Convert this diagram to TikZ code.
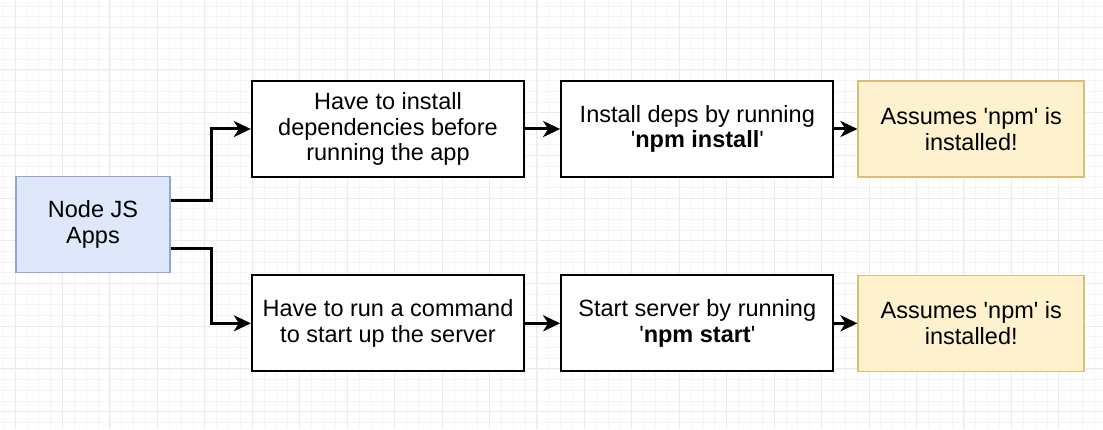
\documentclass[tikz,border=0pt]{standalone}
\usepackage{fontspec}
\setmainfont{Liberation Sans}
\usepackage{tikz}
\usetikzlibrary{arrows.meta,positioning}
\definecolor{njsfill}{HTML}{DFE7FA}
\definecolor{njsline}{HTML}{8FA6D2}
\definecolor{notefill}{HTML}{FDF1CE}
\definecolor{noteline}{HTML}{D8BF73}
\newcommand{\squote}{\textquotesingle}
\tikzset{
	stepbox/.style={draw=black, line width=2.3pt, fill=white, align=center, inner sep=2pt,
		minimum width=272pt, minimum height=96pt, font=\fontsize{23.5}{25.7}\selectfont},
	appbox/.style={stepbox, draw=njsline, fill=njsfill, line width=1.6pt, minimum width=154pt},
	notebox/.style={stepbox, draw=noteline, fill=notefill, line width=1.6pt, minimum width=226pt},
	link/.style={line width=3pt, -{Stealth[length=17pt,width=16pt,inset=5pt]}}
}

\begin{document}
\begin{tikzpicture}[x=1pt, y=1pt, node distance=35pt]
		\useasboundingbox (0,0) rectangle (1103,429);
		\fill[white] (0,0) rectangle (1103,429);
		% grid
		\foreach \i in {-1,...,93}
			\draw[line width=0.6pt, black!4] ({15+11.86*\i},0) -- ++(0,429);
		\foreach \i in {-18,...,22}
			\draw[line width=0.6pt, black!4] (0,{188.3+10.675*\i}) -- ++(1103,0);
		\foreach \i in {0,...,23}
			\draw[line width=0.8pt, black!8] ({15+47.44*\i},0) -- ++(0,429);
		\foreach \i in {-5,...,6}
			\draw[line width=0.8pt, black!8] (0,{188.3+42.7*\i}) -- ++(1103,0);

		\node[appbox] (njs) at (93,204.5) {Node JS\\Apps};
		\node[stepbox] (inst) at (388,300) {Have to install\\dependencies before\\running the app};
		\node[stepbox, right=of inst] (deps) {Install deps by running\\\squote\textbf{npm install}\squote};
		\node[notebox, right=23pt of deps] (npm1) {Assumes \squote npm\squote{} is\\installed!};
		\node[stepbox, below=96pt of inst] (run) {Have to run a command\\to start up the server};
		\node[stepbox, right=of run] (start) {Start server by running\\\squote\textbf{npm start}\squote};
		\node[notebox, right=23pt of start] (npm2) {Assumes \squote npm\squote{} is\\installed!};

		\draw[link] ([yshift=24pt]njs.east) -- ++(41,0) |- (inst);
		\draw[link] ([yshift=-24pt]njs.east) -- ++(41,0) |- (run);
		\draw[link] (inst) -- (deps);
		\draw[link] (deps) -- (npm1);
		\draw[link] (run) -- (start);
		\draw[link] (start) -- (npm2);
	\end{tikzpicture}
\end{document}
